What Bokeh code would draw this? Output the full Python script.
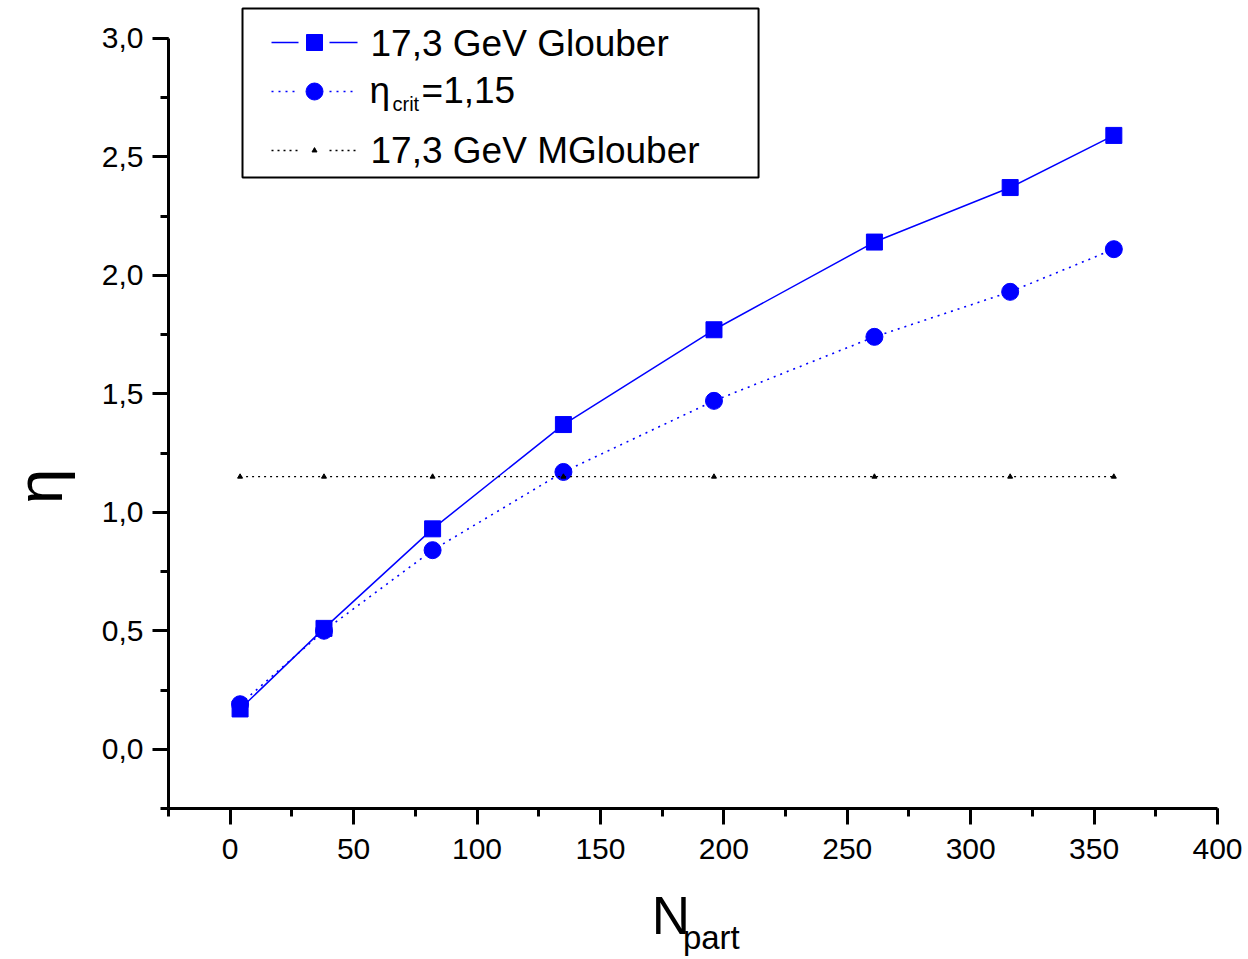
from bokeh.plotting import figure
from bokeh.models import (Range1d, SingleIntervalTicker, FixedTicker, CustomJSTickFormatter,
                          LinearAxis, BoxAnnotation)
from bokeh.embed import file_html
from bokeh.resources import INLINE
from bokeh.core.properties import value

# ---------------- data ----------------
n_part = [4, 38, 82, 135, 196, 261, 316, 358]
eta_glauber = [0.17, 0.51, 0.93, 1.37, 1.77, 2.14, 2.37, 2.59]
eta_crit_curve = [0.19, 0.50, 0.84, 1.17, 1.47, 1.74, 1.93, 2.11]
eta_mglauber = [1.15, 1.15, 1.15, 1.15, 1.15, 1.15, 1.15, 1.15]

legend_labels = ["17,3 GeV Glouber", "17,3 GeV MGlouber"]
eta_crit_text = ["\u03b7", "crit", "=1,15"]
x_title = ["N", "part"]
y_title = "\u03b7"

FONT = "Liberation Sans"
BLUE = "#0000ff"
NB = "\u00a0"

X0, X1 = -25, 400
Y0, Y1 = -0.25, 3.0
TOP_PX = 4
Y_TOP = Y0 + (808 - TOP_PX) / 237.0

p = figure(width=1248, height=959, output_backend="svg", toolbar_location=None,
           x_range=Range1d(X0, X1), y_range=Range1d(Y0, Y_TOP),
           min_border_left=168, min_border_right=31, min_border_top=TOP_PX,
           min_border_bottom=151)
p.outline_line_color = None
p.xgrid.visible = False
p.ygrid.visible = False
p.background_fill_color = "white"
p.border_fill_color = "white"

p.xaxis.ticker = SingleIntervalTicker(interval=50, num_minor_ticks=2)
p.yaxis.ticker = SingleIntervalTicker(interval=0.5, num_minor_ticks=2)
p.xaxis.bounds = (X0, X1)
p.yaxis.bounds = (Y0, Y1)
p.yaxis.formatter = CustomJSTickFormatter(code="return tick.toFixed(1).replace('.', ',');")
p.xaxis.formatter = CustomJSTickFormatter(code="return tick.toFixed(0);")

for ax in (p.xaxis, p.yaxis):
    ax.axis_line_width = 3
    ax.axis_line_color = "black"
    ax.major_tick_line_width = 3
    ax.minor_tick_line_width = 3
    ax.major_tick_line_color = "black"
    ax.minor_tick_line_color = "black"
    ax.major_tick_out = 16
    ax.major_tick_in = 0
    ax.minor_tick_out = 8
    ax.minor_tick_in = 0
    ax.major_label_text_font = FONT
    ax.major_label_text_font_size = "30px"
    ax.major_label_text_color = "black"
p.xaxis.major_label_standoff = 14
p.yaxis.major_label_standoff = 9


def dx(px):
    return X0 + (px - 168) / 2.468


def dy(py):
    return Y0 + (808 - py) / 237.0


# ---------------- legend frame (drawn under everything) ----------------
p.add_layout(BoxAnnotation(left=dx(242), right=dx(758), top=dy(8), bottom=dy(177),
                           fill_color="white", fill_alpha=1.0, line_color="black",
                           line_alpha=1.0, line_width=2, level="underlay"))

# ---------------- series ----------------
p.line(n_part, eta_glauber, line_color=BLUE, line_width=1.5)
p.scatter(n_part, eta_glauber, marker="square", size=16, fill_color=BLUE, line_color=BLUE)
p.line(n_part, eta_crit_curve, line_color=BLUE, line_width=1.6, line_dash="2 5")
p.scatter(n_part, eta_crit_curve, marker="circle", size=17, fill_color=BLUE, line_color=BLUE)
p.line(n_part, eta_mglauber, line_color="black", line_width=1.3, line_dash="2 4")
p.scatter(n_part, eta_mglauber, marker="triangle", size=5, fill_color="black",
          line_color="black")

# ---------------- legend samples ----------------
row_y = [dy(42), dy(91), dy(150)]
seg_x0 = [dx(271), dx(329)]
seg_x1 = [dx(298), dx(357)]
mark_x = dx(314)
p.segment(seg_x0, [row_y[0]] * 2, seg_x1, [row_y[0]] * 2, line_color=BLUE, line_width=1.5)
p.scatter([mark_x], [row_y[0]], marker="square", size=16, fill_color=BLUE, line_color=BLUE)
p.segment(seg_x0, [row_y[1]] * 2, seg_x1, [row_y[1]] * 2, line_color=BLUE, line_width=1.6,
          line_dash="2 5")
p.scatter([mark_x], [row_y[1]], marker="circle", size=17, fill_color=BLUE, line_color=BLUE)
p.segment(seg_x0, [row_y[2]] * 2, seg_x1, [row_y[2]] * 2, line_color="black",
          line_width=1.3, line_dash="2 4")
p.scatter([mark_x], [row_y[2]], marker="triangle", size=5, fill_color="black",
          line_color="black")

p.text(x=[dx(370), dx(370)], y=[dy(43), dy(150)], text=legend_labels,
       text_font=value(FONT), text_font_size="37px", text_color="black",
       text_baseline="alphabetic", text_align="left")
p.text(x=[dx(369), dx(421)], y=[dy(90), dy(90)], text=[eta_crit_text[0], eta_crit_text[2]],
       text_font=value(FONT), text_font_size="37px", text_color="black",
       text_baseline="alphabetic", text_align="left")
p.text(x=[dx(392)], y=[dy(103)], text=[eta_crit_text[1]],
       text_font=value(FONT), text_font_size="20px", text_color="black",
       text_baseline="alphabetic", text_align="left")


# ---------------- axis titles (tick-less extra axes) ----------------
def title_axis(text, size, standoff):
    return LinearAxis(ticker=FixedTicker(ticks=[]),
                      axis_line_color=None, major_tick_line_color=None,
                      minor_tick_line_color=None, major_tick_out=0, minor_tick_out=0,
                      axis_label=text, axis_label_text_font=FONT,
                      axis_label_text_font_size=size, axis_label_text_font_style="normal",
                      axis_label_text_color="black", axis_label_standoff=standoff)


p.add_layout(title_axis(x_title[0] + NB * 3, "53px", 24), "below")
p.add_layout(title_axis(NB * 4 + x_title[1], "33px", -29), "below")
p.add_layout(title_axis(y_title + NB * 9, "64px", 23), "left")

open("out.html", "w").write(file_html(p, INLINE))
